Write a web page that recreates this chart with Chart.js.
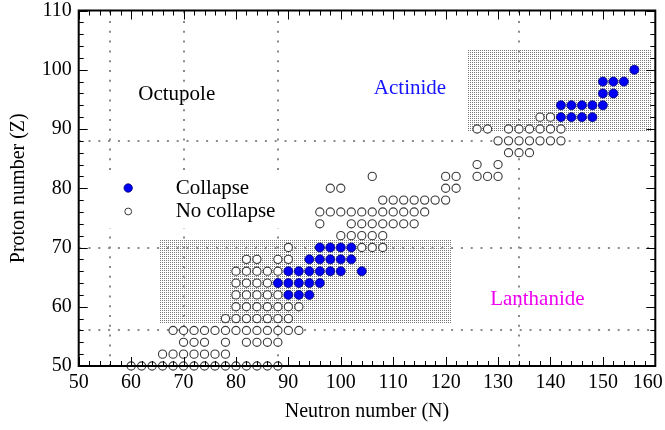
<!DOCTYPE html>
<html>
<head>
<meta charset="utf-8">
<script src="https://cdn.jsdelivr.net/npm/chart.js@4/dist/chart.umd.min.js"></script>
<style>
  html, body { margin: 0; padding: 0; background: #ffffff; }
  #wrap { width: 665px; height: 430px; }
</style>
</head>
<body>
<div id="wrap"><canvas id="c" width="665" height="430"></canvas></div>
<script>
// Even-even nuclei, one entry per proton number Z.
const protonRows = [50, 52, 54, 56, 58, 60, 62, 64, 66, 68, 70, 72, 74, 76, 78, 80, 82, 84, 86, 88, 90, 92, 94, 96, 98, 100];

// Neutron numbers N of nuclei whose octupole deformation collapses.
const collapseNeutrons = [
  [], [], [], [], [], [],
  [90, 92, 94],
  [88, 90, 92, 94, 96],
  [90, 92, 94, 96, 98, 100, 104],
  [94, 96, 98, 100, 102],
  [96, 98, 100, 102],
  [], [], [], [], [], [], [], [], [], [],
  [142, 144, 146, 148],
  [142, 144, 146, 148, 150],
  [150, 152],
  [150, 152, 154],
  [156]
];

// Neutron numbers N of nuclei without collapse.
const noCollapseNeutrons = [
  [60, 62, 64, 66, 68, 70, 72, 74, 76, 78, 80, 82, 84, 86, 88],
  [66, 68, 70, 72, 74, 76, 78],
  [70, 72, 74, 78, 82, 84, 86, 88],
  [68, 70, 72, 74, 76, 78, 80, 82, 84, 86, 88, 90, 92],
  [78, 80, 82, 84, 86, 88, 90],
  [80, 82, 84, 86, 88, 90, 92],
  [80, 82, 84, 86, 88],
  [80, 82, 84, 86],
  [80, 82, 84, 86, 88],
  [82, 84, 88, 90],
  [90, 104, 106, 108],
  [100, 102, 104, 106, 108],
  [96, 102, 104, 106, 108, 110, 112, 114],
  [96, 98, 100, 102, 104, 106, 108, 110, 112, 114, 116],
  [108, 110, 112, 114, 116, 118, 120],
  [98, 100, 120, 122],
  [106, 120, 122, 126, 128, 130],
  [126, 130],
  [132, 134, 136],
  [130, 132, 134, 136, 138, 140, 142],
  [126, 128, 132, 134, 136, 138, 140, 142],
  [138, 140],
  [], [], [], []
];

// Octupole magic numbers marked by dotted lines.
const magicNeutrons = [56, 70, 88, 134];
const magicProtons = [56, 70, 88];

// Shaded regions: [N from, N to, Z from, Z to].
const lanthanideRegion = [65.3, 121, 57.3, 71.4];
const actinideRegion = [124, 159.3, 89.6, 103.4];

// Axis ranges and tick steps.
const xRange = [50, 160];
const yRange = [50, 110];
const majorStep = 10;
const minorStep = 2;

function toPoints(rows, lists) {
  const pts = [];
  rows.forEach((z, i) => lists[i].forEach(n => pts.push({ x: n, y: z })));
  return pts;
}

const serif = "'Liberation Serif', 'Times New Roman', serif";
const blueFill = '#0000f2';
const blueEdge = '#00007a';
const ringColor = '#3a3a3a';

function stipple(ctx) {
  const tile = document.createElement('canvas');
  tile.width = 2; tile.height = 2;
  const t = tile.getContext('2d');
  t.fillStyle = '#787878';
  t.fillRect(0, 0, 1, 1);
  return ctx.createPattern(tile, 'repeat');
}

const decorations = {
  id: 'decorations',
  beforeDatasetsDraw(chart) {
    const { ctx, chartArea: a, scales: { x, y } } = chart;
    ctx.save();
    // stippled regions
    const pat = stipple(ctx);
    [lanthanideRegion, actinideRegion].forEach(r => {
      const x0 = x.getPixelForValue(r[0]), x1 = x.getPixelForValue(r[1]);
      const y0 = y.getPixelForValue(r[3]), y1 = y.getPixelForValue(r[2]);
      ctx.fillStyle = pat;
      ctx.fillRect(Math.round(x0), Math.round(y0), Math.round(x1 - x0), Math.round(y1 - y0));
    });
    // dotted magic-number lines
    ctx.strokeStyle = '#8a8a8a';
    ctx.lineWidth = 2;
    ctx.setLineDash([2, 7.8]);
    magicNeutrons.forEach(n => {
      const px = Math.round(x.getPixelForValue(n));
      ctx.beginPath();
      ctx.moveTo(px, a.bottom);
      ctx.lineTo(px, a.top);
      ctx.stroke();
    });
    magicProtons.forEach(z => {
      const py = Math.round(y.getPixelForValue(z));
      ctx.beginPath();
      ctx.moveTo(a.left, py);
      ctx.lineTo(a.right, py);
      ctx.stroke();
    });
    ctx.restore();
  },
  afterDatasetsDraw(chart) {
    const { ctx, chartArea: a, scales: { x, y } } = chart;
    ctx.save();

    // legend
    ctx.fillStyle = '#ffffff';
    ctx.fillRect(a.left + 14, a.top + 163, 190, 55);
    const lx = a.left + 49.5;
    const tx = a.left + 97;
    const row1 = a.top + 177.5;
    const row2 = a.top + 201;
    ctx.beginPath();
    ctx.arc(lx, row1, 4.2, 0, Math.PI * 2);
    ctx.fillStyle = blueFill;
    ctx.fill();
    ctx.lineWidth = 0.8;
    ctx.strokeStyle = blueEdge;
    ctx.stroke();
    ctx.beginPath();
    ctx.arc(lx, row2, 3.4, 0, Math.PI * 2);
    ctx.fillStyle = '#ffffff';
    ctx.fill();
    ctx.lineWidth = 1;
    ctx.strokeStyle = ringColor;
    ctx.stroke();
    ctx.fillStyle = '#000000';
    ctx.font = '21px ' + serif;
    ctx.textBaseline = 'middle';
    ctx.textAlign = 'left';
    ctx.fillText(chart.data.datasets[0].label, tx, row1);
    ctx.fillText(chart.data.datasets[1].label, tx, row2);

    // region labels
    ctx.textAlign = 'center';
    ctx.fillStyle = '#000000';
    ctx.fillText('Octupole', x.getPixelForValue(68.7), y.getPixelForValue(95.9));
    ctx.fillStyle = '#1414ff';
    ctx.fillText('Actinide', x.getPixelForValue(113.2), y.getPixelForValue(96.9));
    ctx.fillStyle = '#f000f0';
    ctx.fillText('Lanthanide', x.getPixelForValue(137.5), y.getPixelForValue(61.2));

    // inward ticks on all four sides
    ctx.strokeStyle = '#000000';
    ctx.lineWidth = 1;
    ctx.beginPath();
    for (let v = xRange[0]; v <= xRange[1]; v += minorStep) {
      const len = v % majorStep === 0 ? 9 : 5;
      const px = Math.round(x.getPixelForValue(v)) + 0.5;
      ctx.moveTo(px, a.bottom); ctx.lineTo(px, a.bottom - len);
      ctx.moveTo(px, a.top); ctx.lineTo(px, a.top + len);
    }
    for (let v = yRange[0]; v <= yRange[1]; v += minorStep) {
      const len = v % majorStep === 0 ? 9 : 5;
      const py = Math.round(y.getPixelForValue(v)) + 0.5;
      ctx.moveTo(a.left, py); ctx.lineTo(a.left + len, py);
      ctx.moveTo(a.right, py); ctx.lineTo(a.right - len, py);
    }
    ctx.stroke();

    // frame
    ctx.lineWidth = 2;
    ctx.strokeRect(a.left, a.top, a.right - a.left, a.bottom - a.top);
    ctx.restore();
  }
};

new Chart(document.getElementById('c'), {
  type: 'scatter',
  data: {
    datasets: [
      {
        label: 'Collapse',
        data: toPoints(protonRows, collapseNeutrons),
        clip: false,
        pointRadius: 4.5,
        pointHoverRadius: 4.5,
        backgroundColor: blueFill,
        borderColor: blueEdge,
        borderWidth: 0.8
      },
      {
        label: 'No collapse',
        data: toPoints(protonRows, noCollapseNeutrons),
        clip: false,
        pointRadius: 4.1,
        pointHoverRadius: 4.1,
        backgroundColor: '#ffffff',
        borderColor: ringColor,
        borderWidth: 1.1
      }
    ]
  },
  options: {
    responsive: false,
    devicePixelRatio: 1,
    animation: false,
    events: [],
    layout: { padding: { left: 0, right: 9.7, top: 10.5, bottom: 0 } },
    plugins: { legend: { display: false }, tooltip: { enabled: false } },
    scales: {
      x: {
        type: 'linear',
        min: xRange[0],
        max: xRange[1],
        grid: { display: false, drawTicks: false },
        border: { display: false },
        ticks: {
          stepSize: majorStep,
          color: '#000000',
          padding: 5,
          maxRotation: 0,
          font: { family: serif, size: 20 },
          // keep the last label inside the canvas
          callback: v => (v === xRange[1] ? v + '   ' : String(v))
        },
        title: { display: true, text: 'Neutron number (N)', color: '#000000', font: { family: serif, size: 20 }, padding: { top: 0, bottom: 6 } },
        afterFit(s) { s.height = 64; s.paddingLeft = 0; s.paddingRight = 0; }
      },
      y: {
        type: 'linear',
        min: yRange[0],
        max: yRange[1],
        grid: { display: false, drawTicks: false },
        border: { display: false },
        ticks: { stepSize: majorStep, color: '#000000', padding: 7, font: { family: serif, size: 20 } },
        title: { display: true, text: 'Proton number (Z)', color: '#000000', font: { family: serif, size: 20 }, padding: { top: 7, bottom: 0 } },
        afterFit(s) { s.width = 78.7; s.paddingTop = 0; s.paddingBottom = 0; }
      }
    }
  },
  plugins: [decorations]
});
</script>
</body>
</html>
